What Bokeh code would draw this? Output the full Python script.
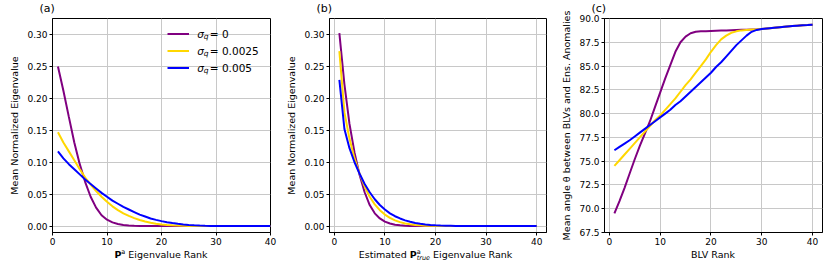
from bokeh.plotting import figure
from bokeh.layouts import row, column
from bokeh.models import (Range1d, FixedTicker, PrintfTickFormatter, Label, Legend,
                          LegendItem, Div, Title)
from bokeh.core.properties import value
from bokeh.embed import file_html
from bokeh.resources import INLINE

# ---------------- data ----------------
rank = list(range(1, 41))
sigma_labels = ["0", "0.0025", "0.005"]
colors = ["purple", "gold", "blue"]

# (a) Pa eigenvalue spectrum
a_sig0 = [0.250, 0.212, 0.171, 0.131, 0.097, 0.069, 0.046, 0.029, 0.017, 0.010,
          0.0058, 0.0033, 0.0018, 0.0009, 0.0005, 0.0003, 0.0002, 0.0001, 0.0, 0.0,
          0.0, 0.0, 0.0, 0.0, 0.0, 0.0, 0.0, 0.0, 0.0, 0.0,
          0.0, 0.0, 0.0, 0.0, 0.0, 0.0, 0.0, 0.0, 0.0, 0.0]
a_sig1 = [0.147, 0.131, 0.117, 0.103, 0.089, 0.076, 0.065, 0.055, 0.046, 0.038,
          0.031, 0.025, 0.020, 0.016, 0.0125, 0.0095, 0.0071, 0.0052, 0.0038, 0.0027,
          0.0019, 0.0013, 0.0008, 0.0005, 0.0003, 0.0002, 0.0001, 0.0, 0.0, 0.0,
          0.0, 0.0, 0.0, 0.0, 0.0, 0.0, 0.0, 0.0, 0.0, 0.0]
a_sig2 = [0.117, 0.106, 0.097, 0.089, 0.081, 0.073, 0.066, 0.059, 0.052, 0.046,
          0.040, 0.035, 0.030, 0.026, 0.022, 0.018, 0.015, 0.012, 0.0098, 0.0078,
          0.0062, 0.0048, 0.0036, 0.0027, 0.0019, 0.0013, 0.0008, 0.0004, 0.0002, 0.0,
          0.0, 0.0, 0.0, 0.0, 0.0, 0.0, 0.0, 0.0, 0.0, 0.0]

# (b) estimated Pa_true eigenvalue spectrum
b_sig0 = [0.302, 0.222, 0.160, 0.115, 0.080, 0.053, 0.033, 0.020, 0.012, 0.007,
          0.004, 0.0022, 0.0012, 0.0006, 0.0003, 0.0001, 0.0, 0.0, 0.0, 0.0,
          0.0, 0.0, 0.0, 0.0, 0.0, 0.0, 0.0, 0.0, 0.0, 0.0,
          0.0, 0.0, 0.0, 0.0, 0.0, 0.0, 0.0, 0.0, 0.0, 0.0]
b_sig1 = [0.274, 0.178, 0.137, 0.106, 0.082, 0.062, 0.046, 0.034, 0.025, 0.018,
          0.013, 0.009, 0.0062, 0.0042, 0.0028, 0.0018, 0.0012, 0.0007, 0.0004, 0.0002,
          0.0001, 0.0, 0.0, 0.0, 0.0, 0.0, 0.0, 0.0, 0.0, 0.0,
          0.0, 0.0, 0.0, 0.0, 0.0, 0.0, 0.0, 0.0, 0.0, 0.0]
b_sig2 = [0.229, 0.152, 0.122, 0.100, 0.082, 0.066, 0.053, 0.042, 0.033, 0.026,
          0.020, 0.0155, 0.012, 0.009, 0.0068, 0.005, 0.0037, 0.0027, 0.0019, 0.0013,
          0.0009, 0.0006, 0.0004, 0.0002, 0.0001, 0.0, 0.0, 0.0, 0.0, 0.0,
          0.0, 0.0, 0.0, 0.0, 0.0, 0.0, 0.0, 0.0, 0.0, 0.0]

# (c) mean angle between BLVs and ensemble anomalies
c_sig0 = [69.5, 70.8, 72.2, 73.7, 75.2, 76.6, 77.9, 79.2, 80.7, 82.2,
          83.7, 85.1, 86.5, 87.5, 88.1, 88.45, 88.6, 88.65, 88.67, 88.69,
          88.71, 88.73, 88.75, 88.77, 88.79, 88.81, 88.83, 88.85, 88.87, 88.9,
          88.95, 89.0, 89.05, 89.1, 89.15, 89.2, 89.25, 89.3, 89.32, 89.35]
c_sig1 = [74.5, 75.1, 75.7, 76.3, 76.9, 77.5, 78.1, 78.7, 79.3, 79.8,
          80.4, 81.0, 81.6, 82.3, 83.0, 83.6, 84.3, 85.0, 85.7, 86.5,
          87.2, 87.8, 88.2, 88.5, 88.65, 88.75, 88.8, 88.85, 88.87, 88.9,
          88.95, 89.0, 89.05, 89.1, 89.15, 89.2, 89.25, 89.3, 89.32, 89.35]
c_sig2 = [76.15, 76.5, 76.85, 77.2, 77.6, 78.0, 78.4, 78.8, 79.2, 79.6,
          80.0, 80.4, 80.9, 81.3, 81.8, 82.3, 82.8, 83.3, 83.8, 84.3,
          84.9, 85.4, 86.0, 86.6, 87.2, 87.7, 88.2, 88.6, 88.8, 88.9,
          88.95, 89.0, 89.05, 89.1, 89.15, 89.2, 89.25, 89.3, 89.32, 89.35]

eig_ticks = [0.0, 0.05, 0.10, 0.15, 0.20, 0.25, 0.30]
ang_ticks = [67.5, 70.0, 72.5, 75.0, 77.5, 80.0, 82.5, 85.0, 87.5, 90.0]
rank_ticks = [0, 10, 20, 30, 40]

FONT = "DejaVu Sans"
FRAME_H = 214


def make_fig(panel, frame_w, left, right, xr, yr, yticks, yfmt, ylabel):
    p = figure(frame_width=frame_w, frame_height=FRAME_H,
               min_border_left=left, min_border_right=right,
               min_border_top=24, min_border_bottom=15,
               x_range=Range1d(*xr), y_range=Range1d(*yr),
               output_backend="svg", toolbar_location=None)
    p.title = Title(text=panel, align="left", offset=-13, standoff=7,
                    text_font=FONT, text_font_size="11px",
                    text_font_style="normal", text_color="black")
    p.background_fill_color = "white"
    p.border_fill_color = "white"
    p.outline_line_color = "black"
    p.outline_line_width = 1
    p.outline_line_alpha = 1
    for ax in (p.xaxis[0], p.yaxis[0]):
        ax.major_tick_out = 3
        ax.major_tick_in = 0
        ax.minor_tick_out = 0
        ax.minor_tick_in = 0
        ax.major_tick_line_color = "black"
        ax.axis_line_color = "black"
        ax.major_label_text_font = FONT
        ax.major_label_text_font_size = "9px"
        ax.major_label_text_color = "black"
        ax.major_label_standoff = 2
        ax.axis_label_text_font = FONT
        ax.axis_label_text_font_size = "9.5px"
        ax.axis_label_text_font_style = "normal"
        ax.axis_label_text_color = "black"
        ax.axis_label_standoff = 4
    p.xaxis.ticker = FixedTicker(ticks=rank_ticks)
    p.xaxis.formatter = PrintfTickFormatter(format="%d")
    p.yaxis.ticker = FixedTicker(ticks=yticks)
    p.yaxis.formatter = PrintfTickFormatter(format=yfmt)
    p.yaxis.axis_label = ylabel
    for g in (p.xgrid[0], p.ygrid[0]):
        g.grid_line_color = "#c8c8c8"
        g.grid_line_width = 1
    return p


def txt(p, text, x, y, size, style="normal", align="left"):
    p.add_layout(Label(x=x, y=y, x_units="screen", y_units="screen", text=text,
                       text_font=FONT, text_font_size=f"{size}px",
                       text_font_style=style, text_align=align,
                       text_baseline="middle", text_color="black"))


def lines(p, ys):
    return [p.line(rank, y, line_color=c, line_width=2) for y, c in zip(ys, colors)]


def xlabel_div(html, frame_w, left, right):
    return Div(text=html, width=frame_w, height=16, margin=(0, right, 0, left),
               styles={"text-align": "center", "font-family": FONT,
                       "font-size": "9.5px", "line-height": "16px",
                       "color": "black", "white-space": "nowrap"})


SUP = '<span style="font-size:6.5px;position:relative;top:-4px">a</span>'
SUPSUB = ('<span style="display:inline-block;vertical-align:-2px;line-height:6.5px;'
          'font-size:6.5px;text-align:left">a<br><i>true</i></span>')

# ---------- (a) ----------
pa = make_fig("(a)", 218, 52, 13, (0, 40), (-0.01, 0.325), eig_ticks, "%.2f",
              "Mean Normalized Eigenvalue")
ra = lines(pa, [a_sig0, a_sig1, a_sig2])
leg = Legend(items=[LegendItem(label=value(""), renderers=[r]) for r in ra],
             location=(114.7, 156.3), glyph_width=22, glyph_height=17,
             label_height=17, label_width=0, label_standoff=0, spacing=0,
             padding=0, margin=0, border_line_alpha=0, background_fill_alpha=0)
pa.add_layout(leg)
row_y = [198.8, 181.7, 164.6]
for yy, lab in zip(row_y, sigma_labels):
    txt(pa, "σ", 144.7, yy, 10.5, style="italic")
    txt(pa, "q", 151.2, yy - 3, 7.5, style="italic")
    txt(pa, "= " + lab, 157.3, yy, 10.5)
da = xlabel_div("<b>P</b>" + SUP + " Eigenvalue Rank", 218, 52, 13)

# ---------- (b) ----------
pb = make_fig("(b)", 217, 44, 11, (-0.95, 41.95), (-0.01, 0.325), eig_ticks, "%.2f",
              "Mean Normalized Eigenvalue")
lines(pb, [b_sig0, b_sig1, b_sig2])
db = xlabel_div("Estimated <b>P</b>" + SUPSUB + " Eigenvalue Rank", 217, 44, 11)

# ---------- (c) ----------
pc = make_fig("(c)", 218, 47, 8, (-0.95, 41.95), (67.5, 90.0), ang_ticks, "%.1f",
              "Mean angle θ between BLVs and Ens. Anomalies")
lines(pc, [c_sig0, c_sig1, c_sig2])
dc = xlabel_div("BLV Rank", 218, 47, 8)

layout = row(column(pa, da), column(pb, db), column(pc, dc), margin=(-6, 0, 0, 0))
open("out.html", "w").write(file_html(layout, INLINE))
